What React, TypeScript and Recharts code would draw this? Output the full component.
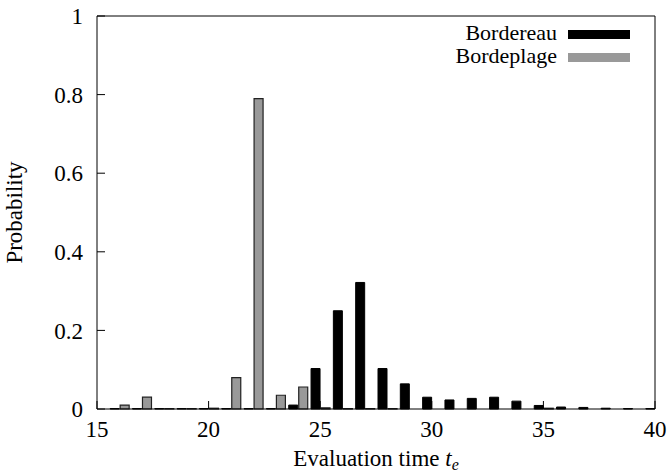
import { ComposedChart, Bar, XAxis, YAxis, Label, ReferenceLine } from 'recharts';

// evaluation time t_e (one pair of bars per value)
const times = [16, 17, 18, 19, 20, 21, 22, 23, 24, 25, 26, 27, 28, 29, 30, 31, 32, 33, 34, 35, 36, 37, 38, 39, 40];
const bordereau = [0.001, 0.001, 0.001, 0.001, 0.001, 0.001, 0.001, 0.001, 0.01, 0.103, 0.25, 0.322, 0.103, 0.064, 0.03, 0.023, 0.027, 0.03, 0.02, 0.009, 0.005, 0.004, 0.002, 0.001, 0.001];
const bordeplage = [0.01, 0.03, 0.001, 0.001, 0.002, 0.08, 0.79, 0.035, 0.056, 0.003, 0.001, 0.001, 0.001, 0, 0, 0, 0, 0, 0, 0.002, 0, 0, 0, 0, 0];

const xTicks = [15, 20, 25, 30, 35, 40];
const yTicks = [0, 0.2, 0.4, 0.6, 0.8, 1];
const yTickLabels = ['0', '0.2', '0.4', '0.6', '0.8', '1'];

const seriesNames = ['Bordereau', 'Bordeplage'];
const seriesColors = ['#000000', '#999999'];

const data = times.map((t, i) => ({ t, bordereau: bordereau[i], bordeplage: bordeplage[i] }));

const FONT = "'Times New Roman', 'Liberation Serif', 'DejaVu Serif', serif";

// legend sits inside the plot box, top right
const LegendBox = () => (
  <div style={{ position: 'absolute', top: 21, right: 37, fontFamily: FONT, fontSize: 22, color: '#000', lineHeight: '23px' }}>
    {seriesNames.map((name, i) => (
      <div key={name} style={{ display: 'flex', alignItems: 'center', justifyContent: 'flex-end', height: 23 }}>
        <span>{name}</span>
        <span style={{ display: 'inline-block', width: 62, height: 9, marginLeft: 11, marginTop: 4, background: seriesColors[i] }} />
      </div>
    ))}
  </div>
);

const XLabel = ({ viewBox }: any) => {
  const cx = viewBox.x + viewBox.width / 2;
  return (
    <text x={cx} y={466} textAnchor="middle" fontFamily={FONT} fontSize={23} fill="#000">
      Evaluation time <tspan fontStyle="italic">t</tspan>
      <tspan fontStyle="italic" fontSize={16} dy={4}>e</tspan>
    </text>
  );
};

export default function App() {
  return (
    <div style={{ position: 'absolute', left: 0, top: 0, width: 667, height: 474, background: '#fff' }}>
      <ComposedChart
        width={667}
        height={474}
        data={data}
        margin={{ top: 16, right: 12, left: 0, bottom: 0 }}
        barGap={1}
      >
        <XAxis
          dataKey="t"
          type="number"
          domain={[15, 40]}
          ticks={xTicks}
          allowDataOverflow
          height={65}
          stroke="#000"
          tickSize={-8}
          tickMargin={20}
          tick={{ fill: '#000', fontFamily: FONT, fontSize: 23 }}
          label={<XLabel />}
        />
        <YAxis
          domain={[0, 1]}
          ticks={yTicks}
          tickFormatter={(v: number) => yTickLabels[yTicks.indexOf(v)]}
          width={97}
          stroke="#000"
          tickSize={-8}
          tickMargin={22}
          tick={{ fill: '#000', fontFamily: FONT, fontSize: 23 }}
        >
          <Label
            value="Probability"
            angle={-90}
            position="insideLeft"
            offset={14}
            style={{ textAnchor: 'middle', fill: '#000', fontFamily: FONT, fontSize: 23 }}
          />
        </YAxis>
        {/* border box: top and right edges */}
        <ReferenceLine y={1} stroke="#000" strokeWidth={1} ifOverflow="visible" />
        <ReferenceLine x={40} stroke="#000" strokeWidth={1} ifOverflow="visible" />
        <Bar dataKey="bordereau" name={seriesNames[0]} fill={seriesColors[0]} stroke="#000" strokeWidth={1} barSize={9} isAnimationActive={false} />
        <Bar dataKey="bordeplage" name={seriesNames[1]} fill={seriesColors[1]} stroke="#222" strokeWidth={1.2} barSize={9} isAnimationActive={false} />
      </ComposedChart>
      <LegendBox />
    </div>
  );
}
